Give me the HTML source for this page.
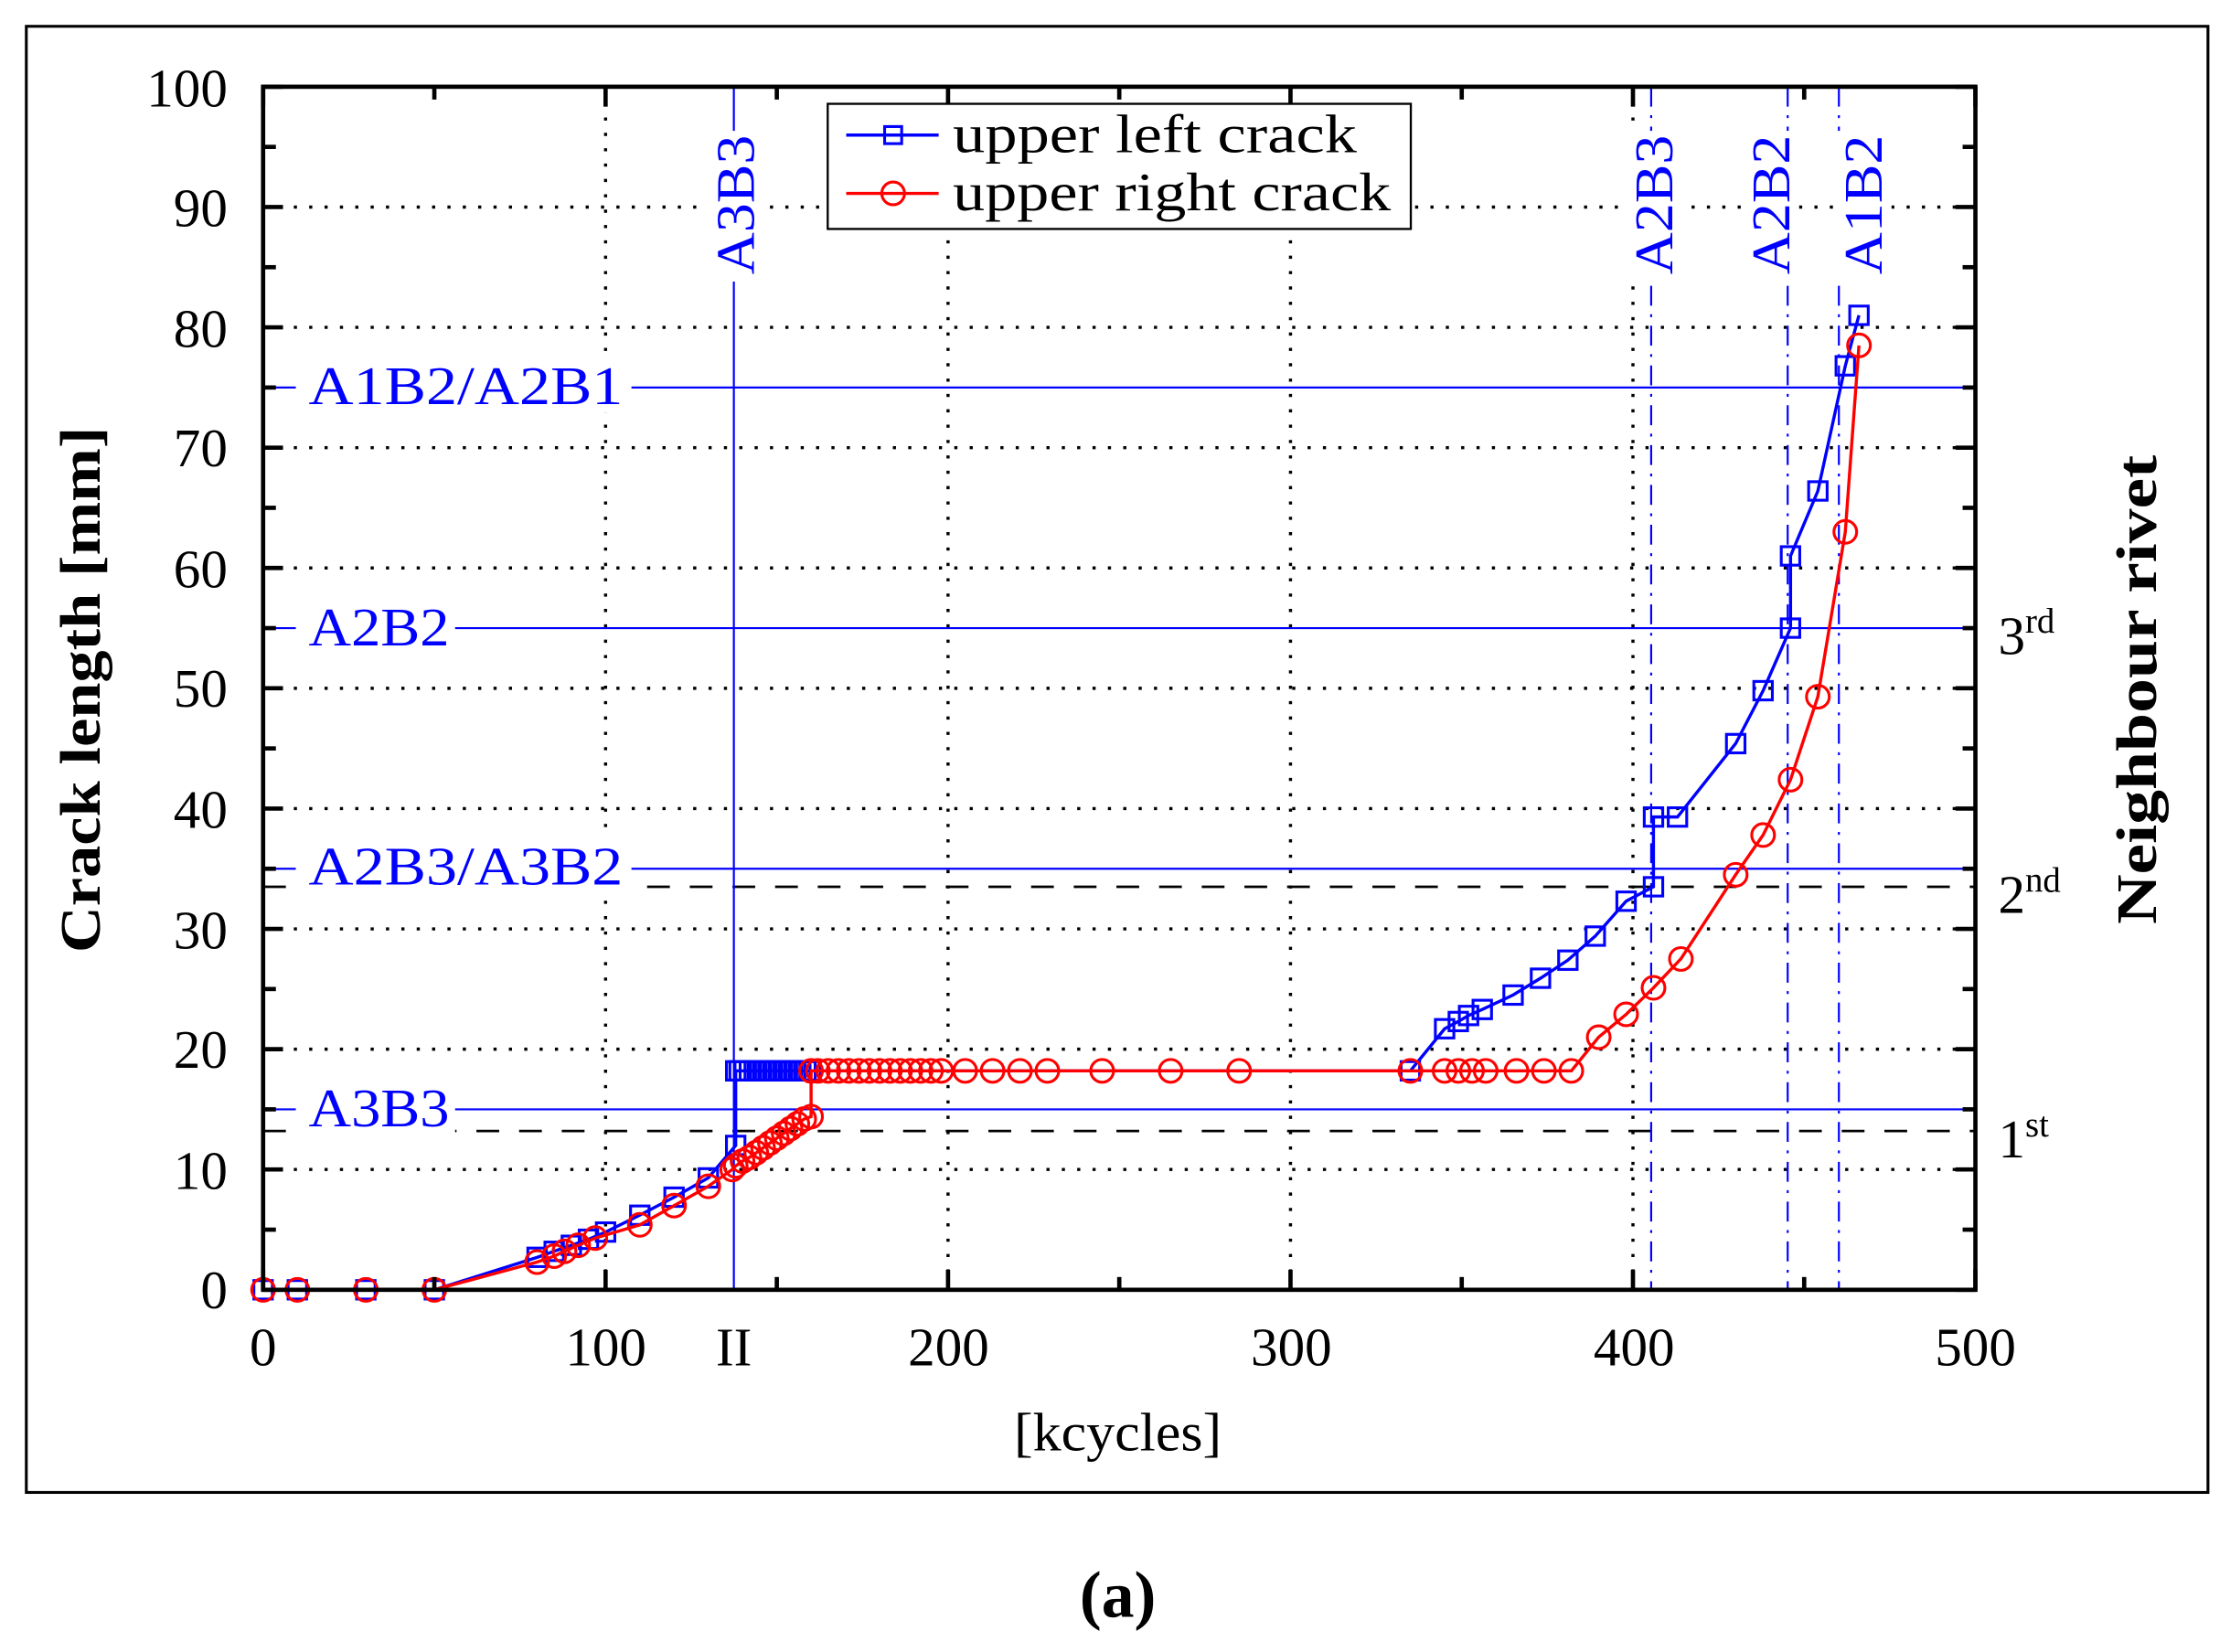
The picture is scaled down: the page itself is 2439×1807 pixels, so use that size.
<!DOCTYPE html>
<html><head><meta charset="utf-8"><style>
html,body{margin:0;padding:0;background:#fff;}
svg{display:block;}
text{font-family:"Liberation Serif",serif;}
</style></head><body>
<svg id="s" width="2439" height="1807" viewBox="0 0 1568 1161.7" xmlns="http://www.w3.org/2000/svg">
<rect x="0" y="0" width="1568" height="1162" fill="#fff"/>
<rect x="18.5" y="18.5" width="1534" height="1031" fill="none" stroke="#000" stroke-width="2"/>
<g id="grid"></g>
<g id="ref"></g>
<g id="ser"></g>
<rect x="185" y="61" width="1204" height="846" fill="none" stroke="#000" stroke-width="3"/>
<g id="ticks"></g>
<g font-size="38" text-anchor="middle" fill="#000">
<text x="185" y="960">0</text><text x="426" y="960">100</text><text x="516" y="960">II</text>
<text x="667" y="960">200</text><text x="908" y="960">300</text><text x="1149" y="960">400</text><text x="1389" y="960">500</text>
</g>
<g font-size="38" text-anchor="end" fill="#000">
<text x="160" y="920">0</text><text x="160" y="836">10</text><text x="160" y="751">20</text><text x="160" y="667">30</text>
<text x="160" y="582">40</text><text x="160" y="497">50</text><text x="160" y="413">60</text><text x="160" y="328">70</text>
<text x="160" y="244">80</text><text x="160" y="159">90</text><text x="160" y="75">100</text>
</g>
<text x="713" y="1020" font-size="38" textLength="146" lengthAdjust="spacingAndGlyphs">[kcycles]</text>
<text x="786" y="1137" font-size="46" font-weight="bold" text-anchor="middle">(a)</text>
<text transform="translate(70,670) rotate(-90)" font-size="40" font-weight="bold" textLength="370" lengthAdjust="spacingAndGlyphs">Crack length [mm]</text>
<text transform="translate(1516,650) rotate(-90)" font-size="40" font-weight="bold" textLength="330" lengthAdjust="spacingAndGlyphs">Neighbour rivet</text>
<g font-size="38">
<text x="1405" y="460">3<tspan font-size="25" dy="-15">rd</tspan></text>
<text x="1405" y="642">2<tspan font-size="25" dy="-15">nd</tspan></text>
<text x="1405" y="814">1<tspan font-size="25" dy="-15">st</tspan></text>
</g>
<g font-size="38" fill="#00f">
<rect x="208" y="250" width="236" height="40" fill="#fff"/><text x="217" y="284" textLength="221" lengthAdjust="spacingAndGlyphs">A1B2/A2B1</text>
<rect x="208" y="420" width="112" height="40" fill="#fff"/><text x="217" y="454" textLength="99" lengthAdjust="spacingAndGlyphs">A2B2</text>
<rect x="208" y="588" width="236" height="40" fill="#fff"/><text x="217" y="622" textLength="221" lengthAdjust="spacingAndGlyphs">A2B3/A3B2</text>
<rect x="208" y="758" width="112" height="40" fill="#fff"/><text x="217" y="792" textLength="99" lengthAdjust="spacingAndGlyphs">A3B3</text>
</g>
<g font-size="38" fill="#00f">
<rect x="496" y="92" width="40" height="106" fill="#fff"/><text transform="translate(530,193) rotate(-90)" textLength="98" lengthAdjust="spacingAndGlyphs">A3B3</text>
<rect x="1143" y="92" width="40" height="106" fill="#fff"/><text transform="translate(1176,193) rotate(-90)" textLength="98" lengthAdjust="spacingAndGlyphs">A2B3</text>
<rect x="1225" y="92" width="40" height="106" fill="#fff"/><text transform="translate(1258,193) rotate(-90)" textLength="98" lengthAdjust="spacingAndGlyphs">A2B2</text>
<rect x="1290" y="92" width="40" height="106" fill="#fff"/><text transform="translate(1323,193) rotate(-90)" textLength="98" lengthAdjust="spacingAndGlyphs">A1B2</text>
</g>
<rect x="582" y="73" width="410" height="88" fill="#fff" stroke="#000" stroke-width="1.5"/>
<line x1="595" y1="95" x2="660" y2="95" stroke="#00f" stroke-width="2.2"/>
<rect x="622" y="89" width="12" height="12" fill="none" stroke="#00f" stroke-width="2"/>
<line x1="595" y1="136" x2="660" y2="136" stroke="#f00" stroke-width="2.2"/>
<circle cx="628" cy="136" r="8" fill="none" stroke="#f00" stroke-width="2"/>
<text x="670" y="107" font-size="38" textLength="284" lengthAdjust="spacingAndGlyphs">upper left crack</text>
<text x="670" y="148" font-size="38" textLength="308" lengthAdjust="spacingAndGlyphs">upper right crack</text>
</svg>
<script>
var NS="http://www.w3.org/2000/svg";
function X(k){return 185+k*2.408;}function Y(v){return 907-v*8.46;}
function el(p,t,a){var e=document.createElementNS(NS,t);for(var k in a)e.setAttribute(k,a[k]);document.getElementById(p).appendChild(e);return e;}
[100,200,300,400].forEach(function(k){el("grid","line",{x1:X(k),y1:61,x2:X(k),y2:907,stroke:"#000","stroke-width":2.2,"stroke-dasharray":"2.2 8.6"});});
for(var v=10;v<=90;v+=10)el("grid","line",{x1:185,y1:Y(v),x2:1389,y2:Y(v),stroke:"#000","stroke-width":2.2,"stroke-dasharray":"2.2 8.6"});
[33.5,13.2].forEach(function(v){el("grid","line",{x1:185,y1:Y(v),x2:1389,y2:Y(v),stroke:"#000","stroke-width":1.8,"stroke-dasharray":"16 14"});});
[75,55,35,15].forEach(function(v){el("ref","line",{x1:185,y1:Y(v),x2:1389,y2:Y(v),stroke:"#00f","stroke-width":1.4});});
el("ref","line",{x1:516,y1:61,x2:516,y2:907,stroke:"#00f","stroke-width":1.4});
[1161,1257,1293].forEach(function(x){el("ref","line",{x1:x,y1:61,x2:x,y2:907,stroke:"#00f","stroke-width":1.4,"stroke-dasharray":"14 6 2 6"});});
for(var k=0;k<=500;k+=50){var L=(k%100==0)?14:9;el("ticks","line",{x1:X(k),y1:907,x2:X(k),y2:907-L,stroke:"#000","stroke-width":3});el("ticks","line",{x1:X(k),y1:61,x2:X(k),y2:61+L,stroke:"#000","stroke-width":3});}
for(var v=0;v<=100;v+=5){var L=(v%10==0)?14:9;el("ticks","line",{x1:185,y1:Y(v),x2:185+L,y2:Y(v),stroke:"#000","stroke-width":3});el("ticks","line",{x1:1389,y1:Y(v),x2:1389-L,y2:Y(v),stroke:"#000","stroke-width":3});}
var B=[[0,0],[10,0],[30,0],[50,0],[80,2.7],[85,3.2],[90,3.7],[95,4.2],[100,4.8],[110,6.2],[120,7.7],[130,9.3],[138,12],[138,18.2]];
for(var k=139;k<=160;k+=1.5)B.push([k,18.2]);
B=B.concat([[335,18.2],[345,21.7],[349,22.3],[352,22.8],[356,23.3],[365,24.5],[373,25.9],[381,27.4],[389,29.4],[398,32.3],[406,33.5],[406,39.3],[413,39.3],[430,45.4],[438,49.8],[446,55],[446,61],[454,66.4],[462,76.8],[466,81]]);
var R=[[0,0],[10,0],[30,0],[50,0],[80,2.3],[85,2.8],[88,3.2],[92,3.7],[97,4.3],[110,5.4],[120,7],[130,8.6],[137,10],[138,10.3],[140,10.7],[142,11],[144,11.4],[146,11.8],[148,12.2],[150,12.6],[152,13],[154,13.4],[156,13.8],[158,14.2],[160,14.4],[160,18.2]];
[162,165,168,171,174,177,180,183,186,189,192,195,198,205,213,221,229,245,265,285,335,345,349,353,357,366,374,382].forEach(function(k){R.push([k,18.2]);});
R=R.concat([[390,21],[398,22.9],[406,25.1],[414,27.5],[430,34.5],[438,37.8],[446,42.4],[454,49.3],[462,63],[466,78.5]]);
function pts(a){return a.map(function(p){return X(p[0]).toFixed(1)+","+Y(p[1]).toFixed(1);}).join(" ");}
el("ser","polyline",{points:pts(B),fill:"none",stroke:"#00f","stroke-width":2.2});
B.forEach(function(p){el("ser","rect",{x:X(p[0])-6.5,y:Y(p[1])-6.5,width:13,height:13,fill:"none",stroke:"#00f","stroke-width":2});});
el("ser","polyline",{points:pts(R),fill:"none",stroke:"#f00","stroke-width":2.2});
R.forEach(function(p){el("ser","circle",{cx:X(p[0]),cy:Y(p[1]),r:8,fill:"none",stroke:"#f00","stroke-width":2});});
</script>
</body></html>
